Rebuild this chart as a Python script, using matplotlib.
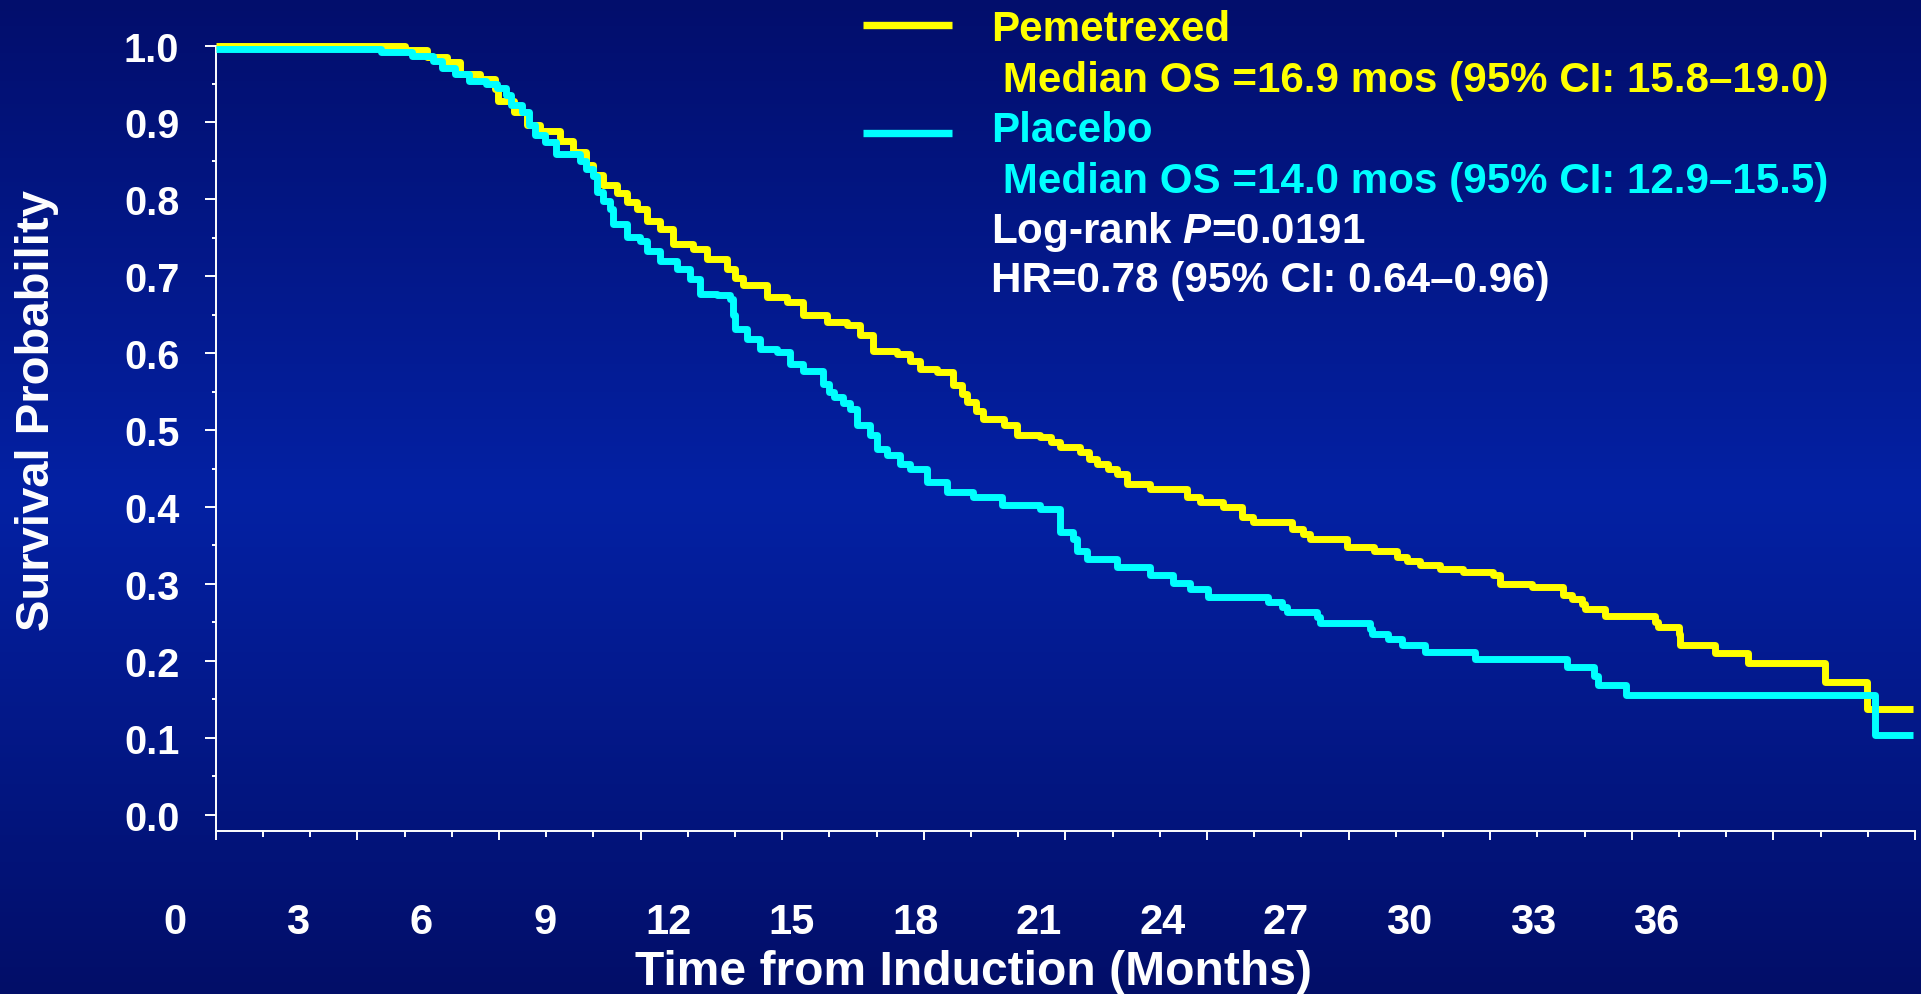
import numpy as np
import matplotlib
matplotlib.use("Agg")
import matplotlib.pyplot as plt
from matplotlib.colors import LinearSegmentedColormap
from matplotlib.lines import Line2D

FONT = ['Liberation Sans', 'DejaVu Sans']
plt.rcParams['font.family'] = FONT
plt.rcParams['font.weight'] = 'bold'
plt.rcParams['mathtext.fontset'] = 'custom'
plt.rcParams['mathtext.it'] = 'Liberation Sans:italic:bold'
plt.rcParams['mathtext.rm'] = 'Liberation Sans:bold'
plt.rcParams['mathtext.bf'] = 'Liberation Sans:bold'

# ---------------- data ----------------
pem_time = [0, 4.0, 4.47, 4.89, 5.18, 5.6, 5.92, 5.99, 6.31, 6.59, 6.87, 7.29, 7.58,
            7.85, 8.0, 8.21, 8.5, 8.71, 8.92, 9.13, 9.41, 9.69, 10.12, 10.40, 10.83,
            11.0, 11.18, 11.67, 12.10, 12.45, 12.94, 13.37, 13.65, 13.93, 14.43, 14.7,
            14.92, 15.28, 15.63, 15.8, 15.91, 16.1, 16.26, 16.69, 16.97, 17.46, 17.7,
            17.89, 18.31, 18.5, 18.66, 18.9, 19.09, 19.30, 19.79, 20.57, 20.85, 21.35,
            21.74, 21.98, 22.80, 23.04, 23.18, 23.96, 24.53, 25.02, 25.23, 25.51, 25.94,
            26.43, 27.07, 27.21, 27.88, 28.55, 28.73, 28.94, 29.01, 29.43, 30.49, 30.56,
            30.99, 31.02, 31.76, 32.47, 34.09, 34.98, 35.95]
pem_surv = [1.0, 0.994, 0.985, 0.979, 0.963, 0.956, 0.943, 0.928, 0.913, 0.896, 0.889, 0.876, 0.861,
            0.845, 0.831, 0.818, 0.808, 0.796, 0.788, 0.772, 0.761, 0.742, 0.735, 0.723, 0.709,
            0.698, 0.688, 0.673, 0.666, 0.649, 0.640, 0.636, 0.623, 0.603, 0.599, 0.590,
            0.579, 0.575, 0.558, 0.547, 0.536, 0.525, 0.514, 0.506, 0.493, 0.491, 0.484,
            0.478, 0.471, 0.463, 0.456, 0.450, 0.443, 0.430, 0.423, 0.413, 0.406, 0.400,
            0.387, 0.380, 0.371, 0.365, 0.359, 0.348, 0.343, 0.335, 0.330, 0.325, 0.319,
            0.316, 0.311, 0.300, 0.296, 0.286, 0.280, 0.274, 0.268, 0.258, 0.250, 0.244,
            0.235, 0.221, 0.210, 0.197, 0.173, 0.137, 0.137]

pla_time = [0, 3.5, 4.15, 4.6, 4.8, 5.08, 5.36, 5.72, 5.96, 6.14, 6.25, 6.49, 6.63, 6.77,
            6.98, 7.2, 7.72, 7.85, 8.0, 8.07, 8.2, 8.35, 8.42, 8.71, 8.99, 9.13, 9.41,
            9.77, 10.05, 10.26, 10.61, 10.9, 10.95, 11.0, 11.25, 11.53, 11.89, 12.17,
            12.45, 12.87, 13.0, 13.1, 13.3, 13.44, 13.58, 13.86, 14.0, 14.22, 14.5, 14.71,
            15.06, 15.49, 16.05, 16.65, 17.46, 17.89, 18.17, 18.24, 18.45, 19.09, 19.79,
            20.29, 20.64, 21.03, 22.30, 22.58, 22.69, 23.33, 23.40, 24.46, 24.49, 24.84,
            25.13, 25.62, 26.68, 28.62, 29.19, 29.29, 29.88, 35.15, 35.95]
pla_surv = [0.996, 0.991, 0.986, 0.980, 0.971, 0.963, 0.954, 0.950, 0.945, 0.935, 0.922, 0.913, 0.896, 0.883,
            0.874, 0.859, 0.850, 0.840, 0.830, 0.809, 0.798, 0.787, 0.768, 0.751, 0.746, 0.733, 0.720,
            0.709, 0.696, 0.677, 0.675, 0.670, 0.650, 0.632, 0.618, 0.605, 0.601, 0.586,
            0.577, 0.560, 0.550, 0.543, 0.535, 0.527, 0.506, 0.493, 0.475, 0.467, 0.456, 0.449,
            0.432, 0.419, 0.413, 0.402, 0.397, 0.367, 0.358, 0.343, 0.332, 0.322, 0.311,
            0.301, 0.294, 0.283, 0.276, 0.270, 0.263, 0.257, 0.249, 0.241, 0.235, 0.228,
            0.220, 0.212, 0.202, 0.192, 0.180, 0.169, 0.155, 0.103, 0.103]

y_ticks = [0.0, 0.1, 0.2, 0.3, 0.4, 0.5, 0.6, 0.7, 0.8, 0.9, 1.0]
y_ticklabels = ['0.0', '0.1', '0.2', '0.3', '0.4', '0.5', '0.6', '0.7', '0.8', '0.9', '1.0']
x_label_values = [0, 3, 6, 9, 12, 15, 18, 21, 24, 27, 30, 33, 36]
x_ticklabels = ['0', '3', '6', '9', '12', '15', '18', '21', '24', '27', '30', '33', '36']

legend_lines = [
    ('Pemetrexed', '#FFFF00'),
    (' Median OS =16.9 mos (95% CI: 15.8\u201319.0)', '#FFFF00'),
    ('Placebo', '#00FFFF'),
    (' Median OS =14.0 mos (95% CI: 12.9\u201315.5)', '#00FFFF'),
    ('Log-rank $\\mathit{P}$=0.0191', 'white'),
    ('HR=0.78 (95% CI: 0.64\u20130.96)', 'white'),
]

YELLOW = '#FFFF00'
CYAN = '#00FFFF'

# ---------------- figure ----------------
W, H = 1921, 995
fig = plt.figure(figsize=(W / 100, H / 100), dpi=100)

# background gradient
bg = fig.add_axes([0, 0, 1, 1], zorder=-10)
cmap = LinearSegmentedColormap.from_list(
    'bg', [(0.0, (2/255, 14/255, 108/255)), (0.5, (4/255, 33/255, 164/255)),
           (1.0, (2/255, 14/255, 104/255))])
grad = np.linspace(0, 1, 256).reshape(-1, 1)
bg.imshow(grad, aspect='auto', cmap=cmap, extent=[0, 1, 0, 1], origin='upper')
bg.axis('off')

ax_left, ax_right = 215.7 / W, 1915 / W
ax_bottom, ax_top = (H - 832.3) / H, (H - 46.5) / H
ax = fig.add_axes([ax_left, ax_bottom, ax_right - ax_left, ax_top - ax_bottom])
ax.set_facecolor('none')

ax.step(pem_time, pem_surv, where='post', color=YELLOW, lw=5.0, clip_on=False,
        zorder=3, solid_capstyle='butt')
ax.step(pla_time, pla_surv, where='post', color=CYAN, lw=5.0, clip_on=False,
        zorder=4, solid_capstyle='butt')

ax.set_xlim(0, 36)
ax.set_ylim(-0.0216, 1.0)

for s in ['top', 'right']:
    ax.spines[s].set_visible(False)
for s in ['left', 'bottom']:
    ax.spines[s].set_color('white')
    ax.spines[s].set_linewidth(1.4)

ax.set_yticks(y_ticks)
ax.set_yticklabels(y_ticklabels)
ax.set_yticks(np.arange(0.05, 1.0, 0.1), minor=True)
ax.tick_params(axis='y', which='major', length=8.2, width=1.4, color='white',
               labelcolor='white', labelsize=28.5, pad=18)
ax.tick_params(axis='y', which='minor', length=3, width=1.4, color='white')

ax.set_xticks(np.arange(0, 37, 3))
ax.set_xticks(np.arange(0, 37, 1), minor=True)
ax.set_xticklabels([])
ax.tick_params(axis='x', which='major', length=6.8, width=1.4, color='white')
ax.tick_params(axis='x', which='minor', length=4.5, width=1.4, color='white')

# displayed month labels: on the slide they sit on their own, narrower scale
lab_left, lab_right = 174.5 / W, 1656.3 / W
axl = fig.add_axes([lab_left, ax_bottom, lab_right - lab_left, 0.0001])
axl.set_facecolor('none')
axl.set_xlim(0, 36)
axl.set_xticks(x_label_values)
axl.set_xticklabels(x_ticklabels)
axl.set_yticks([])
axl.tick_params(axis='x', length=0, labelcolor='white', labelsize=30, pad=51)
for s in axl.spines.values():
    s.set_visible(False)

ax.set_ylabel('Survival Probability', color='white', fontsize=34, fontweight='bold')
ax.yaxis.label.set_va('center')
ax.yaxis.set_label_coords((36.8 - 215.7) / 1699.3, 0.537)
ax.set_xlabel('Time from Induction (Months)', color='white', fontsize=34.6, fontweight='bold')
ax.xaxis.label.set_va('center')
ax.xaxis.set_label_coords(0.4462, (832.3 - 972.5) / 785.8)

# legend block
leg_x = 991 / W
baselines = [41.0, 91.7, 141.7, 192.7, 243.3, 291.7]
for (txt, col), yy in zip(legend_lines, baselines):
    fig.text(leg_x, 1 - yy / H, txt, color=col, fontsize=30.3, fontweight='bold',
             ha='left', va='baseline')
for col, yy in [(YELLOW, 26.3), (CYAN, 134.2)]:
    fig.add_artist(Line2D([862.7 / W, 952 / W], [1 - yy / H, 1 - yy / H], color=col,
                          lw=5.3, solid_capstyle='butt', transform=fig.transFigure))

fig.savefig('out.png', dpi=100)
